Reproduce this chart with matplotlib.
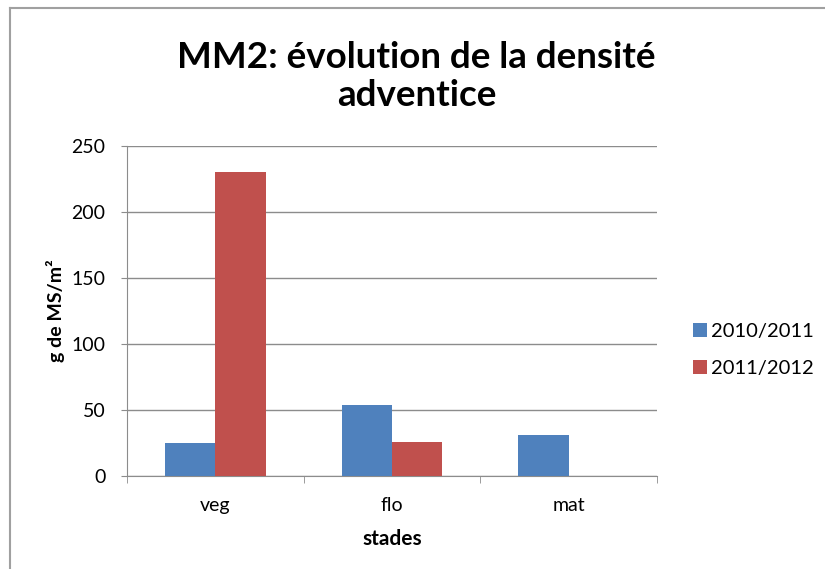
import numpy as np
import matplotlib.pyplot as plt
from matplotlib.lines import Line2D

# données
stades = ['veg', 'flo', 'mat']
s2010 = [25, 54, 31]
s2011 = [230, 26, 0]
series_names = ['2010/2011', '2011/2012']
colors = ['#4f81bd', '#c0504d']

plt.rcParams['font.family'] = ['Lato', 'DejaVu Sans']

fig = plt.figure(figsize=(8.25, 5.69), dpi=100)
ax = fig.add_axes([127/825, 1-476/569, 530/825, 330/569])

x = np.arange(len(stades))
w = 0.285
ax.bar(x - w/2, s2010, w, color=colors[0], label=series_names[0], zorder=3)
ax.bar(x + w/2, s2011, w, color=colors[1], label=series_names[1], zorder=3)

ax.set_xlim(-0.5, 2.5)
ax.set_ylim(0, 250)
ax.set_yticks(np.arange(0, 251, 50))
ax.yaxis.grid(True, color='#8c8c8c', linewidth=1, zorder=0)
ax.set_xticks(x)
ax.set_xticklabels(stades, fontsize=14)
ax.set_xticks([-0.5, 0.5, 1.5, 2.5], minor=True)
ax.tick_params(axis='x', which='major', length=0, pad=15)
ax.tick_params(axis='x', which='minor', length=5, color='#8c8c8c')
ax.tick_params(axis='y', length=4.5, color='#8c8c8c', labelsize=14, pad=11)
for sp in ['top', 'right']:
    ax.spines[sp].set_visible(False)
for sp in ['left', 'bottom']:
    ax.spines[sp].set_color('#8c8c8c')

ax.set_xlabel('stades', fontsize=15, fontweight='bold', labelpad=11)
ax.set_ylabel('g de MS/m²', fontsize=14, fontweight='bold', labelpad=5)

fig.text(0.505, 1-76.5/569, 'MM2: évolution de la densité\nadventice', ha='center', va='center',
         fontsize=26.5, fontweight='bold', linespacing=1.2)

fig.legend(loc='center left', bbox_to_anchor=(693/825, 1-350/569), frameon=False,
           borderpad=0, borderaxespad=0,
           handlelength=0.7, handleheight=0.7, handletextpad=0.2, labelspacing=1.0,
           fontsize=14.5)

# cadre du graphique
fig.add_artist(Line2D([10/825, 1], [1-8/569, 1-8/569], color='#a0a0a0', linewidth=1.5))
fig.add_artist(Line2D([10/825, 10/825], [0, 1-8/569], color='#a0a0a0', linewidth=1.5))

fig.savefig('out.png', dpi=100)
